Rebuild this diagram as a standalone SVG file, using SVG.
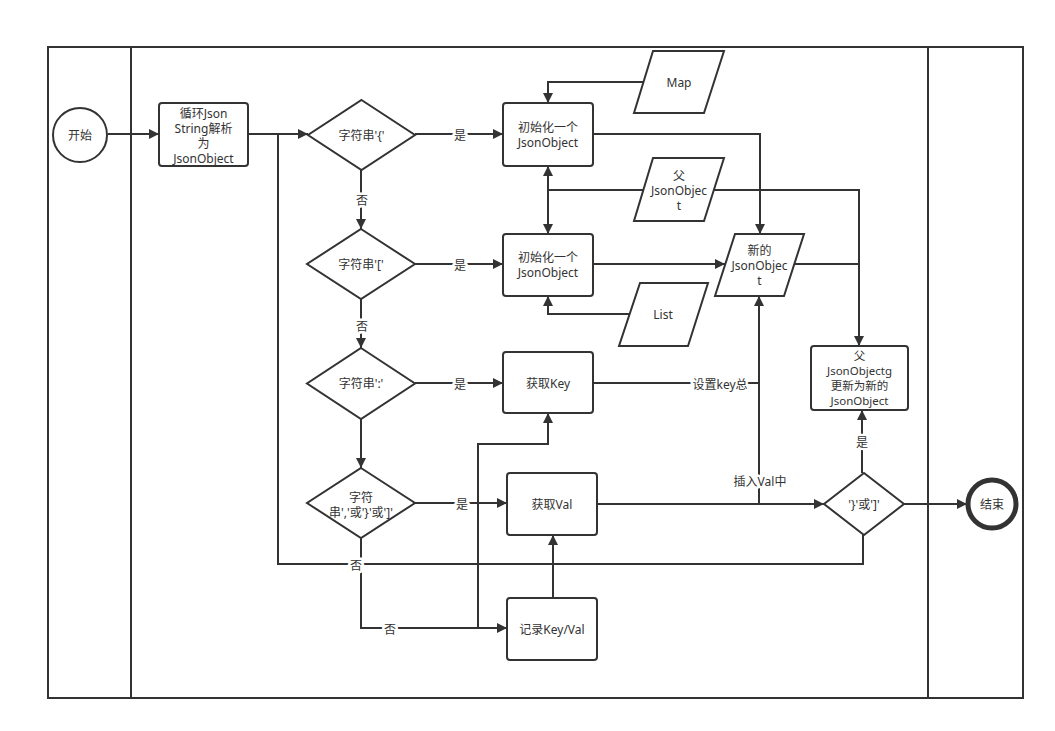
<svg xmlns="http://www.w3.org/2000/svg" width="1055" height="731" viewBox="0 0 1055 731">
<style>
.s{fill:#fff;stroke:#333;stroke-width:2}
.c{fill:none;stroke:#333;stroke-width:2}
text{font-family:"Noto Sans","Noto Sans CJK SC",sans-serif;font-size:12px;fill:#333;text-anchor:middle;dominant-baseline:central}
.sm{font-size:11.5px}
.lb{stroke:#fff;stroke-width:5;paint-order:stroke;stroke-linejoin:round}
</style>
<defs>
<marker id="a" viewBox="0 0 10 10" refX="10" refY="5" markerWidth="12" markerHeight="10" markerUnits="userSpaceOnUse" orient="auto-start-reverse">
<path d="M0,0 L10,5 L0,10 z" fill="#333"/>
</marker>
</defs>
<rect width="1055" height="731" fill="#fff"/>
<g id="lanes">
<rect x="48" y="47" width="975" height="651" class="c"/>
<line x1="131" y1="47" x2="131" y2="698" class="c"/>
<line x1="928" y1="47" x2="928" y2="698" class="c"/>
</g>
<g id="connectors">
<path class="c" d="M108,134 H159" marker-end="url(#a)"/>
<path class="c" d="M248,134 H308" marker-end="url(#a)"/>
<path class="c" d="M415,134 H503" marker-end="url(#a)"/>
<path class="c" d="M361,170 V229" marker-end="url(#a)"/>
<path class="c" d="M415,264 H503" marker-end="url(#a)"/>
<path class="c" d="M361,299 V348" marker-end="url(#a)"/>
<path class="c" d="M415,383 H503" marker-end="url(#a)"/>
<path class="c" d="M361,419 V468" marker-end="url(#a)"/>
<path class="c" d="M415,503 H507" marker-end="url(#a)"/>
<path class="c" d="M361,538 V628 H507" marker-end="url(#a)"/>
<path class="c" d="M553,598 V535" marker-end="url(#a)"/>
<path class="c" d="M478,628 V444 H548 V413" marker-end="url(#a)"/>
<path class="c" d="M644,82 H548 V103" marker-end="url(#a)"/>
<path class="c" d="M593,134 H760 V234" marker-end="url(#a)"/>
<path class="c" d="M643,190 H548"/>
<path class="c" d="M548,166 V234" marker-start="url(#a)" marker-end="url(#a)"/>
<path class="c" d="M713,190 H859 V346" marker-end="url(#a)"/>
<path class="c" d="M593,264 H725" marker-end="url(#a)"/>
<path class="c" d="M794,264 H859"/>
<path class="c" d="M630,314 H548 V296" marker-end="url(#a)"/>
<path class="c" d="M593,383 H759"/>
<path class="c" d="M597,504 H824" marker-end="url(#a)"/>
<path class="c" d="M759,504 V296" marker-end="url(#a)"/>
<path class="c" d="M862,473 V410" marker-end="url(#a)"/>
<path class="c" d="M904,504 H967" marker-end="url(#a)"/>
<path class="c" d="M863,535 V564 H278 V134"/>
<text class="lb" x="460" y="135">是</text>
<text class="lb" x="362" y="200">否</text>
<text class="lb" x="460" y="265">是</text>
<text class="lb" x="362" y="326">否</text>
<text class="lb" x="460" y="384">是</text>
<text class="lb" x="462" y="504">是</text>
<text class="lb" x="390" y="629">否</text>
<text class="lb" x="356" y="565">否</text>
<text class="lb" x="720" y="384">设置key总</text>
<text class="lb" x="760" y="481">插入Val中</text>
<text class="lb" x="862" y="442">是</text>
</g>
<g id="start"><circle cx="80" cy="135" r="27" class="s"/><text x="80" y="135">开始</text></g>
<g id="parse"><rect x="159" y="103" width="89" height="63" rx="3" class="s"/>
<text x="203.5" y="113">循环Json</text><text x="203.5" y="128">String解析</text><text x="203.5" y="143">为</text><text x="203.5" y="158">JsonObject</text></g>
<g id="d1"><polygon points="361.5,100 415,135 361.5,170 308,135" class="s"/><text x="361.5" y="135">字符串'{'</text></g>
<g id="d2"><polygon points="361,229 415,264 361,299 307,264" class="s"/><text x="361" y="264">字符串'['</text></g>
<g id="d3"><polygon points="361,348 415,383.5 361,419 307,383.5" class="s"/><text x="361" y="383.5">字符串':'</text></g>
<g id="d4"><polygon points="361,468 415,503 361,538 307,503" class="s"/><text x="361" y="497">字符</text><text x="361" y="512">串','或'}'或']'</text></g>
<g id="init1"><rect x="503" y="103" width="90" height="63" rx="3" class="s"/><text x="548" y="127">初始化一个</text><text x="548" y="142">JsonObject</text></g>
<g id="init2"><rect x="503" y="234" width="90" height="62" rx="3" class="s"/><text x="548" y="257">初始化一个</text><text x="548" y="272">JsonObject</text></g>
<g id="getkey"><rect x="503" y="352" width="90" height="61" rx="3" class="s"/><text x="548" y="383">获取Key</text></g>
<g id="getval"><rect x="507" y="473" width="90" height="62" rx="3" class="s"/><text x="552" y="504">获取Val</text></g>
<g id="record"><rect x="507" y="598" width="90" height="62" rx="3" class="s"/><text x="552" y="629">记录Key/Val</text></g>
<g id="map"><polygon points="653,51 724,51 704,113 634,113" class="s"/><text x="679" y="82">Map</text></g>
<g id="parent"><polygon points="653,158 724,158 704,221 634,221" class="s"/><text x="679" y="175">父</text><text x="679" y="190">JsonObjec</text><text x="679" y="205">t</text></g>
<g id="newjson"><polygon points="735,234 804,234 784,296 715,296" class="s"/><text x="759.5" y="250">新的</text><text x="759.5" y="265">JsonObjec</text><text x="759.5" y="280">t</text></g>
<g id="list"><polygon points="640,283 708,283 688,346 619,346" class="s"/><text x="663" y="314">List</text></g>
<g id="update"><rect x="811" y="346" width="97" height="64" rx="3" class="s"/><text class="sm" x="859.5" y="355">父</text><text class="sm" x="859.5" y="370">JsonObjectg</text><text class="sm" x="859.5" y="385.5">更新为新的</text><text class="sm" x="859.5" y="400.5">JsonObject</text></g>
<g id="d5"><polygon points="864,473 904,504 864,535 824,504" class="s"/><text x="864" y="504">'}'或']'</text></g>
<g id="end"><circle cx="992" cy="504" r="24" fill="#fff" stroke="#333" stroke-width="5"/><text x="992" y="504">结束</text></g>
</svg>
